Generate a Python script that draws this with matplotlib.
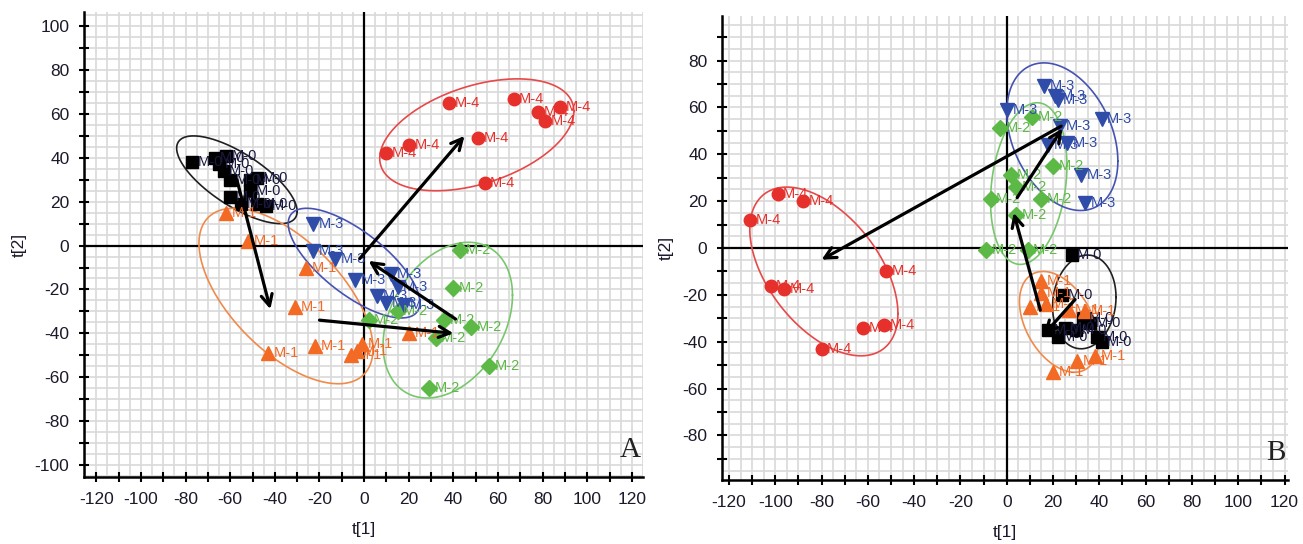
import numpy as np
import matplotlib
matplotlib.use('Agg')
import matplotlib.pyplot as plt

plt.rcParams['font.family'] = ['Liberation Sans', 'DejaVu Sans']
plt.rcParams['axes.unicode_minus'] = False

# ---- panel A scores ----
a_m0_x = [-77, -67, -65, -63, -62, -60, -51, -48, -51, -60, -55, -48, -44]
a_m0_y = [38, 40, 37, 34, 41, 30, 30, 31, 25, 22, 19, 19, 18]
a_m1_x = [-62, -52, -26, -31, -43, -22, -6, -3, -1, 20]
a_m1_y = [15, 2, -10, -28, -49, -46, -50, -48, -45, -40]
a_m2_x = [43, 40, 36, 48, 32, 56, 29, 2, 15]
a_m2_y = [-2, -19.5, -34, -37, -42, -55, -65, -34, -30]
a_m3_x = [-23, -23, -13, -4, 6, 10, 15, 18, 12]
a_m3_y = [10, -2.5, -6, -15.5, -23, -26, -19, -27, -13]
a_m4_x = [38, 67, 78, 88, 81, 51, 20, 10, 54]
a_m4_y = [65, 67, 61, 63, 57, 49, 46, 42, 28.5]

# ellipses: centre x, centre y, half width, half height, correlation
a_ell = {
    'M-0': (-57, 30, 27, 20, -0.72),
    'M-1': (-35, -23, 39, 40, -0.6),
    'M-2': (37.5, -34, 29, 35.5, 0.32),
    'M-3': (-4.5, -8, 29.5, 25, -0.72),
    'M-4': (50.5, 50.5, 43.5, 25.5, 0.42),
}
# arrows (start -> end)
a_arrows = [((-57, 30), (-42, -29)),
            ((-20, -34), (40, -40)),
            ((41, -33.5), (2, -7)),
            ((-2, -6), (45, 50))]

# ---- panel B scores ----
b_m0_x = [28, 24, 18, 22, 25, 30, 39, 41, 36, 33]
b_m0_y = [-3, -20, -35, -38, -34, -35, -38, -40, -32, -30]
b_m1_x = [15, 15, 10, 17, 20, 30.5, 38, 27, 34]
b_m1_y = [-14, -19, -25, -24, -53, -48, -46, -26.5, -27]
b_m2_x = [-3, 11, 20, 2, 4, -7, 15, -9, 9, 4]
b_m2_y = [51, 56, 35, 31, 26, 21, 21, -1, -1, 14]
b_m3_x = [16, 21, 22, 0, 23, 41, 18, 26, 32, 34]
b_m3_y = [69, 65, 63, 59, 52, 55, 44, 45, 31, 19]
b_m4_x = [-111, -99, -88, -52, -102, -96, -62, -53, -80]
b_m4_y = [12, 23, 20, -10, -16, -17.5, -34, -33, -43]

b_ell = {
    'M-0': (33.5, -23, 13.7, 20, 0.1),
    'M-1': (22.5, -31.5, 17, 21.5, -0.4),
    'M-2': (9.5, 27.5, 16.5, 34.5, 0.22),
    'M-3': (24, 47.5, 24, 31.5, -0.33),
    'M-4': (-79, -10, 32, 36, -0.5),
}
b_arrows = [((23.5, 52), (-80, -5)),
            ((4.5, 21.5), (24, 51)),
            ((14.5, -26.5), (3, 15)),
            ((29.5, -22), (16, -37))]

groups = ['M-0', 'M-1', 'M-2', 'M-3', 'M-4']
markers = {'M-0': 's', 'M-1': '^', 'M-2': 'D', 'M-3': 'v', 'M-4': 'o'}
msize = {'M-0': 9, 'M-1': 9.5, 'M-2': 8, 'M-3': 9.5, 'M-4': 9}
colors = {'M-0': '#000000', 'M-1': '#f26a24', 'M-2': '#5cb946',
          'M-3': '#2f4ca8', 'M-4': '#e6302b'}
ell_colors = {'M-0': '#202020', 'M-1': '#f08a4b', 'M-2': '#78c76c',
              'M-3': '#4653b3', 'M-4': '#e84848'}
lab_colors = {'M-0': '#1a1a40', 'M-1': '#f26a24', 'M-2': '#5cb946',
              'M-3': '#2f4ca8', 'M-4': '#e6302b'}


def ellipse_xy(cx, cy, rx, ry, rho):
    t = np.linspace(0, 2 * np.pi, 300)
    x = cx + rx * np.cos(t)
    y = cy + ry * (rho * np.cos(t) + np.sqrt(1 - rho ** 2) * np.sin(t))
    return x, y


def draw_panel(ax, pts, ells, arrows, xlim, ylim, yticks, letter):
    ax.set_xlim(xlim)
    ax.set_ylim(ylim)
    # light grid every 5 units
    for gx in np.arange(-125, 126, 5):
        ax.axvline(gx, color='#d9d9d9', lw=1.2, zorder=0)
    for gy in np.arange(-125, 126, 5):
        ax.axhline(gy, color='#d9d9d9', lw=1.2, zorder=0)
    ax.axhline(0, color='black', lw=1.6, zorder=1)
    ax.axvline(0, color='black', lw=1.6, zorder=1)

    for g in groups:
        ex, ey = ellipse_xy(*ells[g])
        ax.plot(ex, ey, color=ell_colors[g], lw=1.2, zorder=2)
    for g in groups:
        xs, ys = pts[g]
        ax.plot(xs, ys, linestyle='none', marker=markers[g], ms=msize[g],
                color=colors[g], mec=colors[g], zorder=3)
        for x, y in zip(xs, ys):
            ax.annotate(g, (x, y), xytext=(4, 0), textcoords='offset points',
                        va='center', ha='left', fontsize=10.5,
                        color=lab_colors[g], zorder=4)
    for (x0, y0), (x1, y1) in arrows:
        ax.annotate('', xy=(x1, y1), xytext=(x0, y0), zorder=5,
                    arrowprops=dict(arrowstyle='->,head_length=0.8,head_width=0.4',
                                    color='black', lw=2.3, shrinkA=0, shrinkB=0))

    ax.set_xticks(np.arange(-120, 121, 20))
    ax.set_xticks(np.arange(-110, 121, 20), minor=True)
    ax.set_yticks(yticks)
    ax.set_yticks(np.arange(-110, 111, 20), minor=True)
    ax.set_ylim(ylim)
    ax.tick_params(which='both', direction='inout', length=7, width=1.5,
                   labelsize=12.5, labelcolor='#1a1a2a', pad=7)
    for s in ['top', 'right']:
        ax.spines[s].set_visible(False)
    for s in ['left', 'bottom']:
        ax.spines[s].set_linewidth(1.8)
    ax.set_xlabel('t[1]', fontsize=12.5, color='#1a1a2a', labelpad=11)
    ax.set_ylabel('t[2]', fontsize=12.5, color='#1a1a2a', labelpad=6)
    ax.text(0.995, 0.03, letter, transform=ax.transAxes, ha='right', va='bottom',
            fontsize=21, family='Liberation Serif', color='#222222', zorder=6)


fig = plt.figure(figsize=(13.03, 5.44), dpi=100)
axA = fig.add_axes([0.0645, 0.1232, 0.429, 0.8548])
axB = fig.add_axes([0.5541, 0.1176, 0.4344, 0.853])

ptsA = {'M-0': (a_m0_x, a_m0_y), 'M-1': (a_m1_x, a_m1_y), 'M-2': (a_m2_x, a_m2_y),
        'M-3': (a_m3_x, a_m3_y), 'M-4': (a_m4_x, a_m4_y)}
ptsB = {'M-0': (b_m0_x, b_m0_y), 'M-1': (b_m1_x, b_m1_y), 'M-2': (b_m2_x, b_m2_y),
        'M-3': (b_m3_x, b_m3_y), 'M-4': (b_m4_x, b_m4_y)}

draw_panel(axA, ptsA, a_ell, a_arrows, (-125.5, 125), (-105.5, 106.5),
           np.arange(-100, 101, 20), 'A')
draw_panel(axB, ptsB, b_ell, b_arrows, (-123, 121.5), (-99, 99),
           np.arange(-80, 81, 20), 'B')

fig.savefig('out.png', dpi=100)
